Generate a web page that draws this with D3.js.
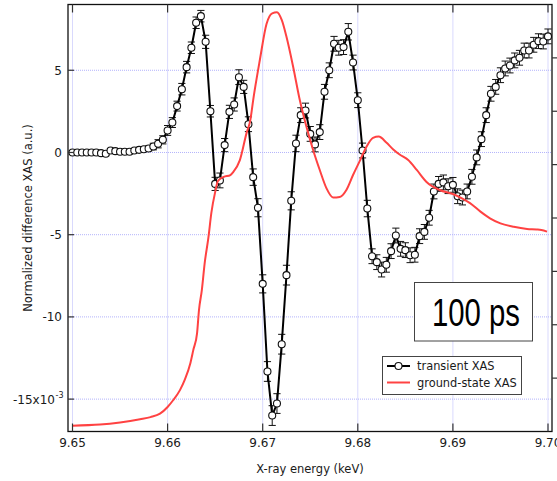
<!DOCTYPE html>
<html>
<head>
<meta charset="utf-8">
<script src="https://cdn.jsdelivr.net/npm/d3@7"></script>
<style>
  html, body { margin: 0; padding: 0; background: #fff; }
  svg { display: block; }
  text { font-family: "DejaVu Sans", Verdana, sans-serif; fill: #1a1a1a; }
</style>
</head>
<body>
<div id="chart"></div>
<script>
// ---------------- data ----------------
const transientEnergy = [
  9.6500, 9.6505, 9.6510, 9.6515, 9.6520, 9.6525, 9.6530, 9.6535, 9.6540, 9.6545,
  9.6550, 9.6555, 9.6560, 9.6565, 9.6570, 9.6575, 9.6580, 9.6585, 9.6590, 9.6595,
  9.6600, 9.6605, 9.6610, 9.6615, 9.6620, 9.6625, 9.6630, 9.6635, 9.6640, 9.6645,
  9.6650, 9.6655, 9.6660, 9.6665, 9.6670, 9.6675, 9.6680, 9.6685, 9.6690, 9.6695,
  9.6700, 9.6705, 9.6710, 9.6715, 9.6720, 9.6725, 9.6730, 9.6735, 9.6740, 9.6745,
  9.6750, 9.6755, 9.6760, 9.6765, 9.6770, 9.6775, 9.6780, 9.6785, 9.6790, 9.6795,
  9.6800, 9.6805, 9.6810, 9.6815, 9.6820, 9.6825, 9.6830, 9.6835, 9.6840, 9.6845,
  9.6850, 9.6855, 9.6860, 9.6865, 9.6870, 9.6875, 9.6880, 9.6885, 9.6890, 9.6895,
  9.6900, 9.6905, 9.6910, 9.6915, 9.6920, 9.6925, 9.6930, 9.6935, 9.6940, 9.6945,
  9.6950, 9.6955, 9.6960, 9.6965, 9.6970, 9.6975, 9.6980, 9.6985, 9.6990, 9.6995,
  9.7000
];
// transient XAS (units of 1e-3)
const transientValue = [
  0, 0, 0, 0, 0, 0, -0.04, -0.08, 0.12, 0.08,
  0.04, 0.04, 0.04, 0.12, 0.16, 0.20, 0.24, 0.36, 0.53, 0.77,
  1.34, 1.82, 2.82, 3.85, 5.19, 6.37, 7.89, 8.29, 6.73, 2.51,
  -1.91, -1.70, 0.45, 2.47, 2.92, 4.58, 3.99, 1.72, -1.50, -3.36,
  -7.99, -13.32, -16.0, -15.27, -11.66, -7.46, -2.94, 0.55, 2.27, 2.55,
  1.13, 0.49, 1.24, 3.69, 5.00, 6.61, 6.37, 6.41, 7.34, 5.47,
  3.18, 0.12, -3.41, -6.31, -6.67, -7.12, -6.83, -6.00, -5.05, -5.86,
  -5.94, -6.25, -6.22, -5.09, -4.83, -3.97, -2.37, -1.91, -1.82, -2.05,
  -1.97, -2.66, -2.74, -2.37, -1.48, -0.30, 0.81, 2.27, 3.57, 3.99,
  4.70, 5.11, 5.29, 5.60, 5.76, 6.20, 6.20, 6.55, 6.77, 6.75,
  7.06
];
const transientError = [
  0.12, 0.12, 0.12, 0.12, 0.12, 0.12, 0.12, 0.12, 0.12, 0.12,
  0.12, 0.12, 0.12, 0.12, 0.12, 0.12, 0.15, 0.2, 0.25, 0.25,
  0.3, 0.3, 0.3, 0.35, 0.35, 0.35, 0.35, 0.35, 0.4, 0.35,
  0.4, 0.45, 0.4, 0.4, 0.4, 0.45, 0.4, 0.45, 0.5, 0.55,
  0.55, 0.6, 0.6, 0.6, 0.6, 0.6, 0.55, 0.5, 0.45, 0.45,
  0.45, 0.45, 0.45, 0.45, 0.45, 0.45, 0.45, 0.45, 0.5, 0.45,
  0.45, 0.45, 0.5, 0.45, 0.45, 0.45, 0.45, 0.45, 0.45, 0.45,
  0.45, 0.45, 0.45, 0.45, 0.45, 0.45, 0.45, 0.45, 0.45, 0.45,
  0.45, 0.45, 0.45, 0.45, 0.45, 0.45, 0.45, 0.45, 0.45, 0.45,
  0.45, 0.45, 0.45, 0.45, 0.45, 0.45, 0.45, 0.45, 0.45, 0.45,
  0.45
];
// ground-state XAS (right axis, normalized absorption)
const groundEnergy = [
  9.6500, 9.6529, 9.6550, 9.6571, 9.6582, 9.6592, 9.6600, 9.6606, 9.6613, 9.6618,
  9.6624, 9.6627, 9.6631, 9.6633, 9.6636, 9.6639, 9.6643, 9.6646, 9.6650, 9.6653,
  9.6659, 9.6666, 9.6669, 9.6676, 9.6683, 9.6687, 9.6690, 9.6697, 9.6704, 9.6710,
  9.6715, 9.6720, 9.6725, 9.6732, 9.6739, 9.6746, 9.6753, 9.6760, 9.6767, 9.6774,
  9.6781, 9.6788, 9.6795, 9.6802, 9.6809, 9.6816, 9.6822, 9.6830, 9.6837, 9.6844,
  9.6853, 9.6862, 9.6872, 9.6886, 9.6900, 9.6911, 9.6918, 9.6929, 9.6939, 9.6950,
  9.6964, 9.6978, 9.6988, 9.6993, 9.6999
];
const groundValue = [
  0.022, 0.026, 0.034, 0.046, 0.054, 0.067, 0.092, 0.118, 0.155, 0.193,
  0.257, 0.305, 0.369, 0.455, 0.530, 0.631, 0.729, 0.819, 0.897, 0.939,
  0.954, 0.961, 0.972, 1.017, 1.118, 1.167, 1.242, 1.392, 1.527, 1.567,
  1.571, 1.542, 1.479, 1.367, 1.242, 1.142, 1.055, 0.980, 0.912, 0.877,
  0.879, 0.905, 0.961, 1.013, 1.066, 1.100, 1.105, 1.083, 1.058, 1.038,
  1.017, 0.980, 0.936, 0.905, 0.890, 0.871, 0.856, 0.824, 0.799, 0.780,
  0.767, 0.759, 0.757, 0.755, 0.749
];
const xTicks = [9.65, 9.66, 9.67, 9.68, 9.69, 9.70];
const xTickLabels = ["9.65", "9.66", "9.67", "9.68", "9.69", "9.70"];
const yTicks = [-15, -10, -5, 0, 5];
const yTickLabels = ["-15x10", "-10", "-5", "0", "5"];
const yRightTicks = [0.2, 0.4, 0.6, 0.8, 1.0, 1.2, 1.4];
const legendLabels = ["transient XAS", "ground-state XAS"];
const annotation = "100 ps";
const xTitle = "X-ray energy (keV)";
const yTitle = "Normalized difference XAS (a.u.)";

// ---------------- layout ----------------
const W = 557, H = 481;
const pL = 68, pR = 552, pT = 4.5, pB = 431.5;

const x = d3.scaleLinear().domain([9.65, 9.70]).range([72.5, 548]);
const y = d3.scaleLinear().domain([-17, 9]).range([432, 4.5]);
const yR = d3.scaleLinear().domain([0, 1.6]).range([431.5, 4.5]);

const svg = d3.select("#chart").append("svg")
  .attr("width", W).attr("height", H).attr("viewBox", `0 0 ${W} ${H}`);

const gridColor = "#b3b3fb";

// grid
const grid = svg.append("g");
grid.selectAll("line.vx").data(xTicks).join("line")
  .attr("x1", d => x(d)).attr("x2", d => x(d))
  .attr("y1", pT).attr("y2", pB)
  .attr("stroke", gridColor).attr("stroke-width", 1).attr("stroke-dasharray", "1,1");
grid.selectAll("line.hy").data(yTicks).join("line")
  .attr("x1", pL).attr("x2", pR)
  .attr("y1", d => y(d)).attr("y2", d => y(d))
  .attr("stroke", gridColor).attr("stroke-width", 1).attr("stroke-dasharray", "1,1");

// clip for data
svg.append("clipPath").attr("id", "plotclip").append("rect")
  .attr("x", pL).attr("y", pT).attr("width", pR - pL).attr("height", pB - pT);

const plot = svg.append("g").attr("clip-path", "url(#plotclip)");

const pts = transientEnergy.map((e, i) => ({ e, v: transientValue[i], s: transientError[i] }));

// error bars
const eb = plot.append("g").attr("stroke", "#111").attr("stroke-width", 1).attr("fill", "none");
eb.selectAll("path").data(pts).join("path")
  .attr("d", d => {
    const cx = x(d.e), y1 = y(d.v + d.s), y2 = y(d.v - d.s), c = 3.6;
    return `M${cx},${y1}V${y2}M${cx - c},${y1}H${cx + c}M${cx - c},${y2}H${cx + c}`;
  });

// transient line
plot.append("path").datum(pts)
  .attr("fill", "none").attr("stroke", "#000").attr("stroke-width", 2)
  .attr("stroke-linejoin", "round")
  .attr("d", d3.line().x(d => x(d.e)).y(d => y(d.v)));

// markers
plot.append("g").selectAll("circle").data(pts).join("circle")
  .attr("cx", d => x(d.e)).attr("cy", d => y(d.v)).attr("r", 3.5)
  .attr("fill", "#fff").attr("stroke", "#111").attr("stroke-width", 1.1);

// ground state curve
const gs = groundEnergy.map((e, i) => ({ e, v: groundValue[i] }));
plot.append("path").datum(gs)
  .attr("fill", "none").attr("stroke", "#ff4242").attr("stroke-width", 2)
  .attr("stroke-linejoin", "round")
  .attr("d", d3.line().x(d => x(d.e)).y(d => yR(d.v)).curve(d3.curveMonotoneX));

// frame
svg.append("rect").attr("x", pL).attr("y", pT)
  .attr("width", pR - pL).attr("height", pB - pT)
  .attr("fill", "none").attr("stroke", "#111").attr("stroke-width", 1.3);

// x axis ticks (inward, top and bottom)
const tk = svg.append("g").attr("stroke", "#333").attr("stroke-width", 1.2);
tk.selectAll("line.xb").data(xTicks).join("line")
  .attr("x1", d => x(d)).attr("x2", d => x(d)).attr("y1", pB).attr("y2", pB - 8);
tk.selectAll("line.xt").data(xTicks).join("line")
  .attr("x1", d => x(d)).attr("x2", d => x(d)).attr("y1", pT).attr("y2", pT + 8);
// left ticks (inward)
tk.selectAll("line.yl").data(yTicks).join("line")
  .attr("x1", pL).attr("x2", pL + 6).attr("y1", d => y(d)).attr("y2", d => y(d));
// right axis ticks (outward)
tk.selectAll("line.yr").data(yRightTicks).join("line")
  .attr("x1", pR).attr("x2", pR + 8).attr("y1", d => yR(d)).attr("y2", d => yR(d));

// x tick labels
svg.append("g").selectAll("text").data(xTicks).join("text")
  .attr("x", d => x(d)).attr("y", 447)
  .attr("text-anchor", "middle").attr("font-size", 12)
  .text((d, i) => xTickLabels[i]);

// y tick labels
svg.append("g").selectAll("text").data(yTicks).join("text")
  .attr("x", (d, i) => i === 0 ? 55 : 62)
  .attr("y", d => y(d) + 4.5)
  .attr("text-anchor", "end").attr("font-size", 12)
  .text((d, i) => yTickLabels[i]);
svg.append("text").attr("x", 55.5).attr("y", y(-15) - 1.5)
  .attr("font-size", 8).text("-3");

// axis titles
svg.append("text").attr("x", (pL + pR) / 2).attr("y", 473)
  .attr("text-anchor", "middle").attr("font-size", 11.5).text(xTitle);
svg.append("text")
  .attr("transform", `translate(31.5,${(pT + pB) / 2}) rotate(-90)`)
  .attr("text-anchor", "middle").attr("font-size", 11.5).text(yTitle);

// annotation box
svg.append("rect").attr("x", 414.5).attr("y", 282.5).attr("width", 118).attr("height", 58.5)
  .attr("fill", "#fff").attr("stroke", "#444").attr("stroke-width", 1);
svg.append("text").attr("x", 476).attr("y", 326)
  .attr("text-anchor", "middle")
  .style("font-family", "'Liberation Sans Narrow', 'Arial Narrow', 'Liberation Sans', sans-serif")
  .attr("font-size", 38)
  .attr("textLength", 88).attr("lengthAdjust", "spacingAndGlyphs")
  .style("fill", "#000")
  .text(annotation);

// legend
const lg = svg.append("g");
lg.append("rect").attr("x", 382.5).attr("y", 356.5).attr("width", 139).attr("height", 38)
  .attr("fill", "#fff").attr("stroke", "#444").attr("stroke-width", 1);
lg.append("line").attr("x1", 387).attr("x2", 410).attr("y1", 366).attr("y2", 366)
  .attr("stroke", "#000").attr("stroke-width", 2);
lg.append("circle").attr("cx", 398.5).attr("cy", 366).attr("r", 3.5)
  .attr("fill", "#fff").attr("stroke", "#111").attr("stroke-width", 1.1);
lg.append("line").attr("x1", 387).attr("x2", 410).attr("y1", 382.5).attr("y2", 382.5)
  .attr("stroke", "#ff4242").attr("stroke-width", 2);
lg.selectAll("text").data(legendLabels).join("text")
  .attr("x", 417).attr("y", (d, i) => 370 + i * 16.5)
  .attr("font-size", 11.4).text(d => d);
</script>
</body>
</html>
